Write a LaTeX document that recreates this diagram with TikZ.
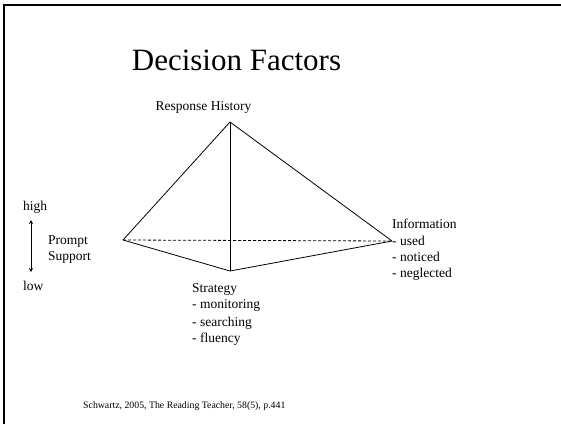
\documentclass[tikz,border=0pt]{standalone}
\usepackage{fontspec}
\setmainfont{Liberation Serif}
\usetikzlibrary{arrows.meta}
\begin{document}
\begin{tikzpicture}[x=1pt,y=-1pt,
  lbl/.style={anchor=base west,inner sep=0pt,font=\fontsize{13.5}{16}\selectfont},
  edge/.style={line width=0.8pt},
  hidden/.style={line width=0.8pt,dash pattern=on 3pt off 2pt}]
  \useasboundingbox (0,0) rectangle (561,424);
  % slide frame (top and left edges)
  \draw[line width=1.7pt] (4.2,424) -- (4.2,4.8) -- (561,4.8);

  % title
  \node[anchor=base,inner sep=0pt,font=\fontsize{31}{36}\selectfont] (title) at (236.5,70) {Decision Factors};

  % pyramid vertices
  \coordinate (apex) at (230,122);
  \coordinate (left) at (123,240);
  \coordinate (right) at (392,241);
  \coordinate (front) at (230,271);

  \draw[hidden] (left) -- (right);
  \draw[edge] (apex) -- (left);
  \draw[edge] (apex) -- (right);
  \draw[edge] (apex) -- (front);
  \draw[edge] (left) -- (front) -- (right);

  % vertex labels
  \node[anchor=base,inner sep=0pt,font=\fontsize{13.5}{16}\selectfont] (resp) at (203.5,110) {Response History};

  \node[lbl] (info) at (392,228) {Information};
  \node[lbl] (used) at (392,245) {- used};
  \node[lbl] (noticed) at (392,261.5) {- noticed};
  \node[lbl] (neglected) at (392,277.5) {- neglected};

  \node[lbl] (strat) at (192,292) {Strategy};
  \node[lbl] (monit) at (192,308.5) {- monitoring};
  \node[lbl] (search) at (192,326) {- searching};
  \node[lbl] (fluency) at (192,342) {- fluency};

  % prompt support scale
  \node[lbl] (high) at (23,210) {high};
  \node[lbl] (low) at (23,290) {low};
  \node[lbl] (prompt) at (48,244) {Prompt};
  \node[lbl] (support) at (48,260.5) {Support};
  \coordinate (top) at (31,220);
  \coordinate (bot) at (31,272);
  \draw[line width=0.8pt,{Stealth[length=4pt,width=4pt]}-{Stealth[length=4pt,width=4pt]}] (top) -- (bot);

  % citation
  \node[anchor=base west,inner sep=0pt,font=\fontsize{9.8}{12}\selectfont] (cite) at (83,408) {Schwartz, 2005, The Reading Teacher, 58(5), p.441};
\end{tikzpicture}
\end{document}
